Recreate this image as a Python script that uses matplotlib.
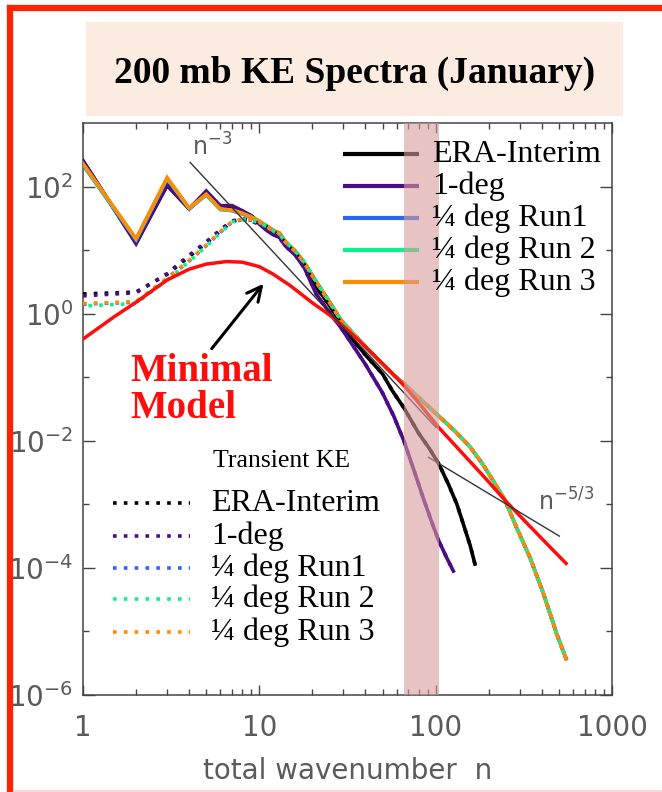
import numpy as np
import matplotlib
matplotlib.use('Agg')
import matplotlib.pyplot as plt
from matplotlib.lines import Line2D
from matplotlib.patches import Rectangle
from matplotlib.ticker import FixedLocator, NullFormatter

# ---- spectra, stored as log10(KE) against total wavenumber n ----
n_low = [1, 2, 3, 4, 5, 6, 7, 8, 9, 10, 11, 12, 13, 14]

n_era = n_low + [16, 18, 21, 25, 29, 33, 40, 50, 57, 66, 80, 92,
                 104, 118, 132, 145, 157, 167]
era_total = [2.40, 1.12, 2.02, 1.65, 1.90, 1.69, 1.68, 1.61, 1.54, 1.44,
             1.36, 1.28, 1.22, 1.10, 0.95, 0.77, 0.42, 0.13, -0.15, -0.37,
             -0.65, -0.95, -1.22, -1.48, -1.88, -2.12, -2.36, -2.68, -3.00,
             -3.35, -3.65, -3.94]

n_1deg = n_low + [16, 18, 21, 25, 29, 33, 40, 50, 58, 66, 75, 85,
                  95, 104, 115, 126]
deg1_total = [2.41, 1.10, 2.02, 1.65, 1.93, 1.70, 1.70, 1.62, 1.54, 1.41,
              1.31, 1.24, 1.20, 1.07, 0.92, 0.72, 0.31, 0.02, -0.22, -0.45,
              -0.80, -1.25, -1.62, -2.00, -2.45, -2.90, -3.28, -3.57, -3.83,
              -4.05]

n_qdeg = n_low + [16, 18, 21, 25, 29, 33, 40, 48, 57, 66, 80, 104,
                  130, 157, 185, 212, 248, 288, 343, 408, 486, 549]
run1_total = [2.34, 1.16, 2.12, 1.65, 1.87, 1.64, 1.62, 1.57, 1.51, 1.45,
              1.38, 1.31, 1.26, 1.14, 0.98, 0.80, 0.50, 0.18, -0.10, -0.27,
              -0.52, -0.75, -0.95, -1.10, -1.32, -1.61, -1.86, -2.10, -2.37,
              -2.63, -2.94, -3.37, -3.84, -4.40, -5.04, -5.43]
run2_total = [2.35, 1.17, 2.13, 1.66, 1.87, 1.64, 1.63, 1.58, 1.52, 1.46,
              1.38, 1.31, 1.27, 1.14, 0.99, 0.81, 0.51, 0.19, -0.10, -0.27,
              -0.52, -0.75, -0.95, -1.10, -1.32, -1.61, -1.86, -2.10, -2.37,
              -2.63, -2.94, -3.37, -3.84, -4.40, -5.04, -5.43]
run3_total = [2.36, 1.18, 2.14, 1.66, 1.88, 1.65, 1.63, 1.58, 1.52, 1.45,
              1.38, 1.31, 1.27, 1.14, 0.98, 0.80, 0.50, 0.18, -0.10, -0.27,
              -0.52, -0.75, -0.95, -1.10, -1.32, -1.61, -1.86, -2.10, -2.37,
              -2.63, -2.94, -3.37, -3.84, -4.40, -5.04, -5.43]

# transient KE differs from total only at the largest scales (n <= 14)
era_trans_low = [0.31, 0.34, 0.62, 0.90, 1.11, 1.30, 1.45, 1.49, 1.46, 1.42,
                 1.37, 1.30, 1.22, 1.12]
deg1_trans_low = [0.28, 0.33, 0.63, 0.92, 1.13, 1.32, 1.46, 1.49, 1.46, 1.40,
                  1.33, 1.26, 1.20, 1.07]
run1_trans_low = [0.15, 0.18, 0.55, 0.83, 1.07, 1.28, 1.44, 1.48, 1.47, 1.43,
                  1.37, 1.30, 1.26, 1.13]
run2_trans_low = [0.12, 0.16, 0.53, 0.82, 1.06, 1.27, 1.44, 1.48, 1.47, 1.43,
                  1.37, 1.30, 1.26, 1.13]
run3_trans_low = [0.16, 0.19, 0.56, 0.84, 1.08, 1.29, 1.45, 1.49, 1.48, 1.44,
                  1.37, 1.30, 1.26, 1.13]

# minimal model spectrum
n_min = [1, 1.5, 2, 3, 4, 5, 6.5, 8, 10, 12, 15, 20, 25, 30, 37, 45, 55, 66,
         80, 104, 140, 190, 248, 330, 420, 549]
min_model = [-0.40, -0.05, 0.18, 0.53, 0.70, 0.78, 0.82, 0.81, 0.74, 0.62,
             0.44, 0.17, -0.02, -0.20, -0.43, -0.66, -0.90, -1.13, -1.40,
             -1.79, -2.18, -2.58, -2.94, -3.30, -3.60, -3.93]

# reference slopes
ref3_n = [4.05, 100.5]
ref3_ke = [240.0, 0.0162]
ref53_n = [91, 503]
ref53_ke = [5.5e-3, 3.16e-4]

labels = ['ERA-Interim', '1-deg', '\u00bc deg Run1', '\u00bc deg Run 2',
          '\u00bc deg Run 3']
colors = ['#000000', '#4b0a86', '#2a66f5', '#10f08c', '#ff8c00']

x_ticks = [1, 10, 100, 1000]
x_ticklabels = ['1', '10', '100', '1000']
y_ticks = [1e-6, 1e-4, 1e-2, 1, 1e2]
y_ticklabels = [r'$10^{-6}$', r'$10^{-4}$', r'$10^{-2}$', r'$10^{0}$', r'$10^{2}$']
y_minor = [1e-5, 1e-3, 1e-1, 1e1]

W, H = 662, 792
serif = 'Liberation Serif'
gray = '#5a5a5a'

fig = plt.figure(figsize=(W / 100, H / 100), dpi=100)
fig.patch.set_facecolor('white')

# title panel
fig.add_artist(Rectangle((86 / W, 1 - 116 / H), (623 - 86) / W, (116 - 22) / H,
                         transform=fig.transFigure, fc='#fcebe0', ec='none'))
fig.text(355 / W, 1 - 83 / H, '200 mb KE Spectra (January)', family=serif,
         weight='bold', fontsize=27, ha='center', va='baseline')

ax = fig.add_axes([83 / W, 1 - 695 / H, (612 - 83) / W, (695 - 123) / H])
ax.set_xscale('log')
ax.set_yscale('log')

totals = [(n_era, era_total), (n_1deg, deg1_total), (n_qdeg, run1_total),
          (n_qdeg, run2_total), (n_qdeg, run3_total)]
trans_low = [era_trans_low, deg1_trans_low, run1_trans_low, run2_trans_low,
             run3_trans_low]

for (nn, ke), c in zip(totals, colors):
    ax.plot(nn, 10 ** np.array(ke), color=c, lw=2.6, zorder=3,
            solid_joinstyle='miter')

dot_order = [0, 1, 2, 4, 3]
for i in dot_order:
    nn, ke = totals[i]
    trans = np.array(trans_low[i] + ke[len(n_low):])
    ax.plot(nn, 10 ** trans, color=colors[i], lw=2.6,
            linestyle=(1.5 if i == 3 else 0, (1, 2)), zorder=4)

ax.plot(n_min, 10 ** np.array(min_model), color='#ff0d0d', lw=2.5, zorder=5)

ax.plot(ref3_n, ref3_ke, color='#333333', lw=1.0, zorder=6)
ax.plot(ref53_n, ref53_ke, color='#333333', lw=1.0, zorder=6)
ax.text(4.15, 10 ** 2.49, r'$\mathregular{n^{-3}}$', color=gray, fontsize=17,
        va='baseline')
ax.text(381, 10 ** -3.10, r'$\mathregular{n^{-5/3}}$', color=gray, fontsize=17,
        va='baseline')

# truncation band
ax.axvspan(66, 105, color='#d99c9c', alpha=0.6, lw=0, zorder=10)

# labels for the minimal model
ax.annotate('', xy=(10.8, 3.2), xytext=(5.25, 0.26),
            arrowprops=dict(arrowstyle='->', color='k', lw=2.2,
                            mutation_scale=26), zorder=7)
ax.text(1.85, 10 ** -1.055, 'Minimal', color='#ff0d0d', family=serif,
        weight='bold', fontsize=28, va='baseline', zorder=7)
ax.text(1.85, 10 ** -1.64, 'Model', color='#ff0d0d', family=serif,
        weight='bold', fontsize=28, va='baseline', zorder=7)

# legend for total KE (solid)
top_rows = [0.9458, 0.8899, 0.8339, 0.778, 0.722]
for y, c, lab in zip(top_rows, colors, labels):
    ax.plot([0.4915, 0.635], [y, y], color=c, lw=3.0, transform=ax.transAxes,
            zorder=8, solid_capstyle='butt')
    ax.text(0.660, y - 0.014, lab, family=serif, fontsize=23,
            transform=ax.transAxes, va='baseline', zorder=12)

# legend for transient KE (dotted)
ax.text(0.2457, 0.399, 'Transient KE', family=serif, fontsize=18.5,
        transform=ax.transAxes, va='baseline', zorder=12)
low_rows = [0.335, 0.278, 0.2226, 0.1673, 0.1107]
for y, c, lab in zip(low_rows, colors, labels):
    ax.plot([0.0567, 0.2023], [y, y], color=c, lw=2.6, linestyle=(0, (1, 2)),
            transform=ax.transAxes, zorder=8)
    ax.text(0.242, y - 0.014, lab, family=serif, fontsize=23,
            transform=ax.transAxes, va='baseline', zorder=12)

ax.set_xlim(1, 1000)
ax.set_ylim(1e-6, 1e3)

ax.xaxis.set_major_locator(FixedLocator(x_ticks))
ax.set_xticklabels(x_ticklabels)
ax.xaxis.set_minor_locator(FixedLocator(
    [m * d for d in (1, 10, 100) for m in range(2, 10)]))
ax.xaxis.set_minor_formatter(NullFormatter())
ax.yaxis.set_major_locator(FixedLocator(y_ticks))
ax.set_yticklabels(y_ticklabels)
ax.yaxis.set_minor_locator(FixedLocator(y_minor))
ax.yaxis.set_minor_formatter(NullFormatter())

ax.tick_params(which='both', direction='in', top=True, right=True,
               color='#444444', width=1.0, labelcolor=gray, labelsize=20)
ax.tick_params(axis='x', which='major', length=7.5, pad=14)
ax.tick_params(axis='x', which='minor', length=4.5)
ax.tick_params(axis='y', which='major', length=8.5, pad=7)
ax.tick_params(axis='y', which='minor', length=4.5)
for sp in ax.spines.values():
    sp.set_color('#444444')
    sp.set_linewidth(1.1)

ax.set_xlabel('total wavenumber  n', fontsize=20, color=gray)
ax.xaxis.set_label_coords(0.5, -0.108)

# red frame
fig.add_artist(Line2D([10 / W, 10 / W], [1 - 8 / H, 0], transform=fig.transFigure,
                      color='#ff2200', lw=4.5, solid_capstyle='projecting'))
fig.add_artist(Line2D([10 / W, 1], [1 - 8 / H, 1 - 8 / H], transform=fig.transFigure,
                      color='#ff2200', lw=4.5, solid_capstyle='projecting'))
fig.add_artist(Line2D([14 / W, 1], [1.5 / H, 1.5 / H], transform=fig.transFigure,
                      color='#ffd6d6', lw=1.5))

fig.savefig('out.png', dpi=100)
